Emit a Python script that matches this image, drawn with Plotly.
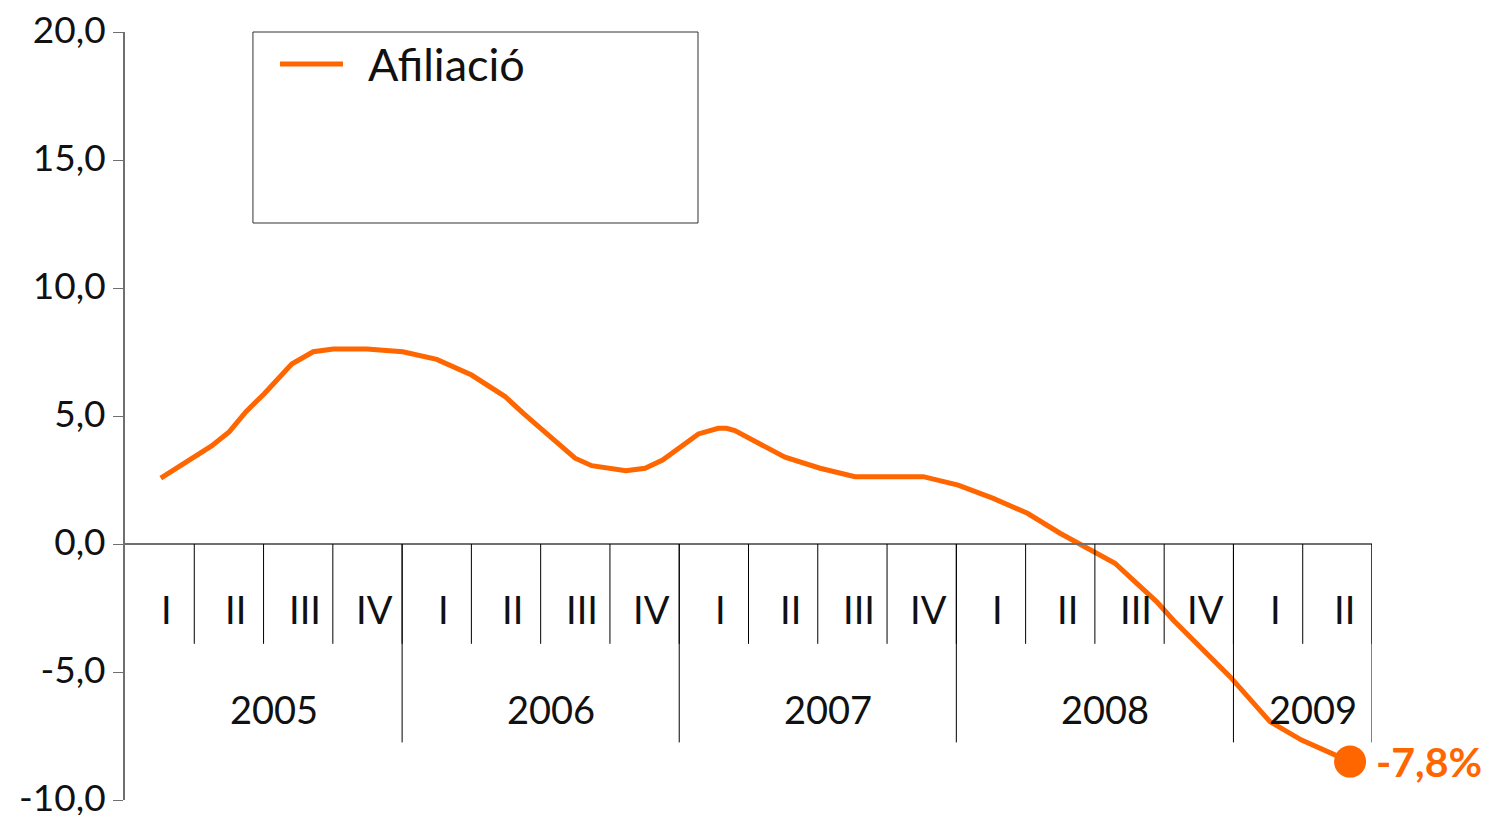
import plotly.graph_objects as go

# ---- data (months since start of 2005) ----
months = [1.55, 2.99, 3.75, 4.52, 5.24, 6.02, 6.85, 7.22, 8.15, 9.02, 10.47, 12.03,
          13.50, 15.01, 16.46, 17.25, 19.49, 20.21, 21.69, 22.52, 23.28, 24.03, 24.83,
          25.69, 26.05, 26.41, 27.06, 27.86, 28.58, 30.10, 31.61, 34.57, 36.08, 37.60,
          39.08, 40.49, 42.08, 42.87, 43.66, 44.67, 45.39, 46.55, 47.85, 49.58, 50.95, 53.05]
afiliacio = [2.57, 3.41, 3.83, 4.39, 5.17, 5.86, 6.67, 7.03, 7.51, 7.62, 7.62, 7.51,
             7.21, 6.60, 5.76, 5.10, 3.35, 3.06, 2.86, 2.96, 3.28, 3.80, 4.30,
             4.52, 4.52, 4.43, 4.13, 3.74, 3.39, 2.96, 2.63, 2.63, 2.30, 1.78,
             1.20, 0.42, -0.36, -0.75, -1.41, -2.25, -2.97, -4.01, -5.18, -6.94, -7.66, -8.50]
last_label = "-7,8%"

quarter_labels = ["I", "II", "III", "IV"] * 4 + ["I", "II"]
years = ["2005", "2006", "2007", "2008", "2009"]
year_quarters = [4, 4, 4, 4, 2]

y_ticks = [-10, -5, 0, 5, 10, 15, 20]
y_ticktext = ["-10,0", "-5,0", "0,0", "5,0", "10,0", "15,0", "20,0"]

ORANGE = "#FF6600"
FONT = "Lato, Open Sans, sans-serif"
FS = 38
TXT = dict(family=FONT, size=FS, color="#111", weight=400)

fig = go.Figure()
fig.add_trace(go.Scatter(x=months, y=afiliacio, mode="lines",
                         line=dict(color=ORANGE, width=5), name="Afiliació",
                         showlegend=False, hoverinfo="skip"))
fig.add_trace(go.Scatter(x=[months[-1]], y=[afiliacio[-1]], mode="markers",
                         marker=dict(color=ORANGE, size=32), showlegend=False,
                         hoverinfo="skip"))

shapes = []
annotations = []
n_q = len(quarter_labels)
total_months = n_q * 3
# zero line (category axis)
shapes.append(dict(type="line", xref="x", yref="y", x0=0, x1=total_months, y0=0, y1=0,
                   line=dict(color="#707070", width=2)))
# quarter separators and labels
for i, q in enumerate(quarter_labels):
    shapes.append(dict(type="line", xref="x", yref="y", x0=(i + 1) * 3, x1=(i + 1) * 3,
                       y0=0, y1=-3.9, line=dict(color="#000000", width=1)))
    annotations.append(dict(x=i * 3 + 1.8, y=-2.55, xref="x", yref="y", text=q,
                            showarrow=False, font=TXT))
# year separators and labels
start = 0
for yr, nq in zip(years, year_quarters):
    end = start + nq * 3
    shapes.append(dict(type="line", xref="x", yref="y", x0=end, x1=end,
                       y0=0, y1=-7.75, line=dict(color="#000000", width=1)))
    annotations.append(dict(x=(start + end) / 2 + 0.45, y=-6.45, xref="x", yref="y", text=yr,
                            showarrow=False, font=TXT))
    start = end

# end value label
annotations.append(dict(x=months[-1], y=afiliacio[-1], xref="x", yref="y", text="<b>" + last_label + "</b>",
                        showarrow=False, xanchor="left", xshift=24,
                        font=dict(family=FONT, size=41, color=ORANGE)))

# legend box
shapes.append(dict(type="rect", xref="paper", yref="paper", x0=0.1026, x1=0.4595,
                   y0=0.7513, y1=1.0, line=dict(color="#333333", width=1), fillcolor="white"))
shapes.append(dict(type="line", xref="paper", yref="paper", x0=0.1243, x1=0.1748,
                   y0=0.9583, y1=0.9583, line=dict(color=ORANGE, width=5)))
annotations.append(dict(x=0.193, y=0.9583, xref="paper", yref="paper", text="Afiliació",
                        showarrow=False, xanchor="left", yanchor="middle",
                        font=dict(family=FONT, size=45, color="#111", weight=400)))

# page body has an 8px margin: figure is offset accordingly
fig.update_layout(
    width=1482, height=815,
    margin=dict(l=117, r=118, t=24, b=23, autoexpand=False),
    paper_bgcolor="white", plot_bgcolor="white",
    shapes=shapes, annotations=annotations,
    xaxis=dict(range=[0, total_months], visible=False, showgrid=False, zeroline=False,
               automargin=False),
    yaxis=dict(range=[-10, 20], tickvals=y_ticks, ticktext=y_ticktext,
               showline=True, linecolor="#707070", linewidth=2,
               ticks="outside", ticklen=10, tickcolor="#707070", tickwidth=1,
               showgrid=False, zeroline=False, automargin=False,
               ticklabeloverflow="allow", ticklabelshift=-2,
               tickfont=dict(family=FONT, size=37, color="#111", weight=400)),
)

fig.write_html("out.html")
